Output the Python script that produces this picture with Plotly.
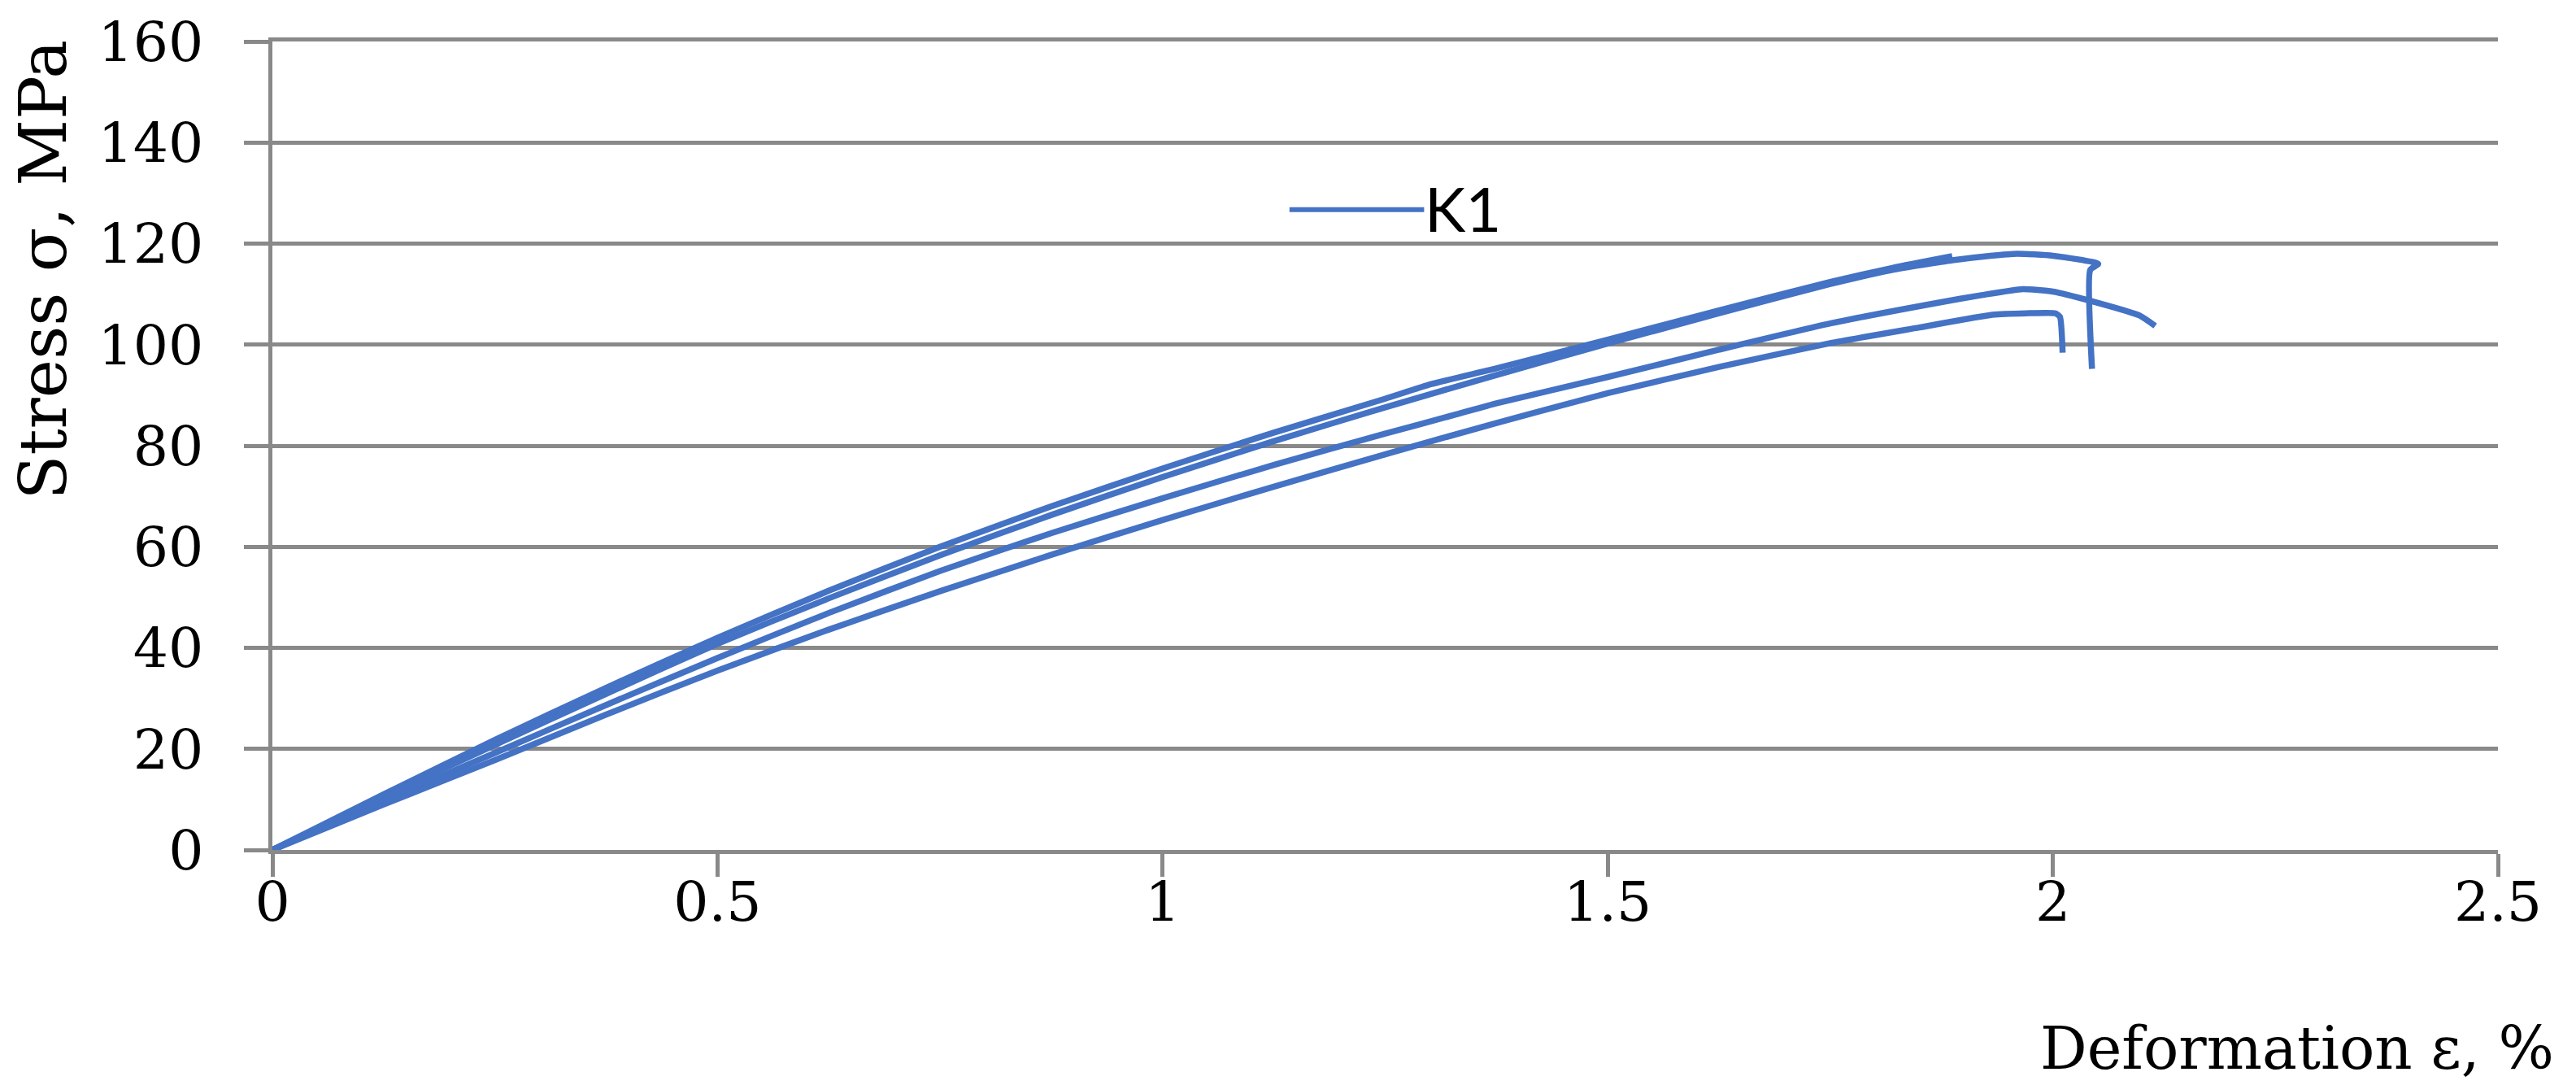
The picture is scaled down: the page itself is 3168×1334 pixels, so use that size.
import plotly.graph_objects as go

# Specimen curves (strain %, stress MPa)
strain_1 = [0, 0.125, 0.25, 0.375, 0.5, 0.625, 0.75, 0.875, 1.0, 1.125, 1.25, 1.302, 1.375, 1.5, 1.625, 1.75, 1.82, 1.887]
stress_1 = [0, 11.0, 21.8, 32.1, 42.0, 51.3, 60.0, 68.0, 75.5, 82.6, 89.3, 92.2, 95.3, 101.0, 106.8, 112.4, 115.2, 117.5]

strain_2 = [0, 0.125, 0.25, 0.375, 0.5, 0.625, 0.75, 0.875, 1.0, 1.125, 1.25, 1.375, 1.5, 1.625, 1.75, 1.82, 1.887, 1.93, 1.96, 2.0, 2.051, 2.042, 2.044]
stress_2 = [0, 10.5, 20.8, 30.9, 40.8, 49.8, 58.3, 66.3, 73.8, 80.9, 87.6, 94.0, 100.2, 106.2, 112.0, 114.8, 116.7, 117.6, 118.0, 117.6, 116.0, 114.8, 95.2]

strain_3 = [0, 0.125, 0.25, 0.375, 0.5, 0.625, 0.75, 0.875, 1.0, 1.125, 1.25, 1.33, 1.375, 1.5, 1.625, 1.75, 1.871, 1.92, 1.966, 2.0, 2.048, 2.097, 2.115]
stress_3 = [0, 9.7, 19.2, 28.7, 38.0, 46.9, 55.2, 62.7, 69.6, 76.2, 82.4, 86.2, 88.4, 93.6, 99.0, 104.2, 108.3, 109.8, 111.0, 110.5, 108.4, 105.8, 103.7]

strain_4 = [0, 0.125, 0.25, 0.375, 0.5, 0.625, 0.75, 0.875, 1.0, 1.125, 1.25, 1.375, 1.5, 1.625, 1.75, 1.85, 1.932, 1.97, 2.003, 2.008, 2.011]
stress_4 = [0, 9.0, 17.8, 26.8, 35.5, 43.6, 51.2, 58.4, 65.3, 71.9, 78.3, 84.5, 90.4, 95.6, 100.3, 103.4, 105.9, 106.2, 106.2, 105.5, 98.4]

x_ticks = [0, 0.5, 1, 1.5, 2, 2.5]
x_tick_labels = ["0", "0.5", "1", "1.5", "2", "2.5"]
y_ticks = [0, 20, 40, 60, 80, 100, 120, 140, 160]

series_name = "K1"
line_color = "#4472C4"
grid_color = "#898989"

fig = go.Figure()
for xs, ys in [(strain_1, stress_1), (strain_2, stress_2),
               (strain_3, stress_3), (strain_4, stress_4)]:
    fig.add_trace(go.Scatter(x=xs, y=ys, mode="lines", name=series_name,
                             line=dict(color=line_color, width=7.5,
                                       shape="spline", smoothing=0.5),
                             showlegend=False))

tick_font = dict(family="DejaVu Serif", size=68, color="black")

fig.update_layout(
    width=3168, height=1334,
    margin=dict(l=335, r=96, t=48, b=289),
    paper_bgcolor="white", plot_bgcolor="white",
    xaxis=dict(range=[0, 2.5], tickvals=x_ticks, ticktext=x_tick_labels,
               showgrid=False, zeroline=False, showline=True, mirror=True,
               linecolor=grid_color, linewidth=5,
               ticks="outside", ticklen=28, tickwidth=5, tickcolor=grid_color,
               tickfont=tick_font, ticklabelstandoff=-28),
    yaxis=dict(range=[0, 160], tickvals=y_ticks,
               showgrid=True, gridcolor=grid_color, gridwidth=5,
               zeroline=False, showline=True,
               linecolor=grid_color, linewidth=5,
               ticks="outside", ticklen=30, tickwidth=5, tickcolor=grid_color,
               tickfont=tick_font, ticklabelstandoff=36),
    shapes=[dict(type="line", xref="paper", yref="paper",
                 x0=0.457, x1=0.5175, y0=0.792, y1=0.792,
                 line=dict(color=line_color, width=6))],
    annotations=[
        dict(text="K1", xref="paper", yref="paper", x=0.517, y=0.794,
             xanchor="left", yanchor="middle", showarrow=False,
             font=dict(family="Lato", size=76, color="black")),
        dict(text="Deformation ε, %", xref="paper", yref="paper",
             x=1.026, y=-0.2895, xanchor="right", yanchor="bottom",
             showarrow=False,
             font=dict(family="DejaVu Serif", size=72, color="black")),
        dict(text="Stress σ, MPa", xref="paper", yref="paper",
             x=-0.103, y=0.717, xanchor="center", yanchor="middle",
             textangle=-90, showarrow=False,
             font=dict(family="DejaVu Serif", size=80, color="black")),
    ],
)

fig.write_html("out.html",
               config={"displayModeBar": False},
               post_script="document.body.style.margin='0px';document.body.style.overflow='hidden';")
